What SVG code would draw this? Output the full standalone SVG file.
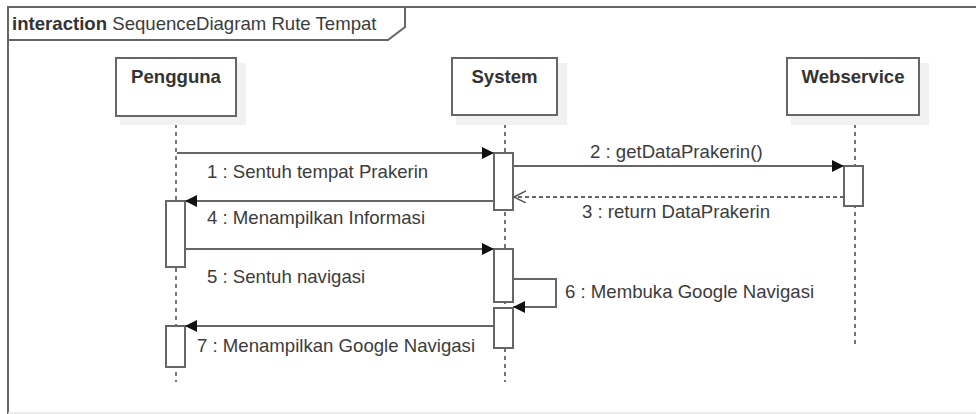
<svg xmlns="http://www.w3.org/2000/svg" width="976" height="414" viewBox="0 0 976 414">
<style>
text{font-family:"Liberation Sans",Arial,sans-serif;fill:#3c3c3c;font-size:18.6px}
.b{font-weight:bold;fill:#333}
.ln{stroke:#666;stroke-width:2;fill:none}
.ll{stroke:#444;stroke-width:1.5;stroke-dasharray:4,4;fill:none}
.box{fill:#fff;stroke:#666;stroke-width:2}
.sh{fill:#f1f1f1}
.act{fill:#fff;stroke:#666;stroke-width:2}
.dash{stroke:#666;stroke-width:2;stroke-dasharray:4,3;fill:none}
</style>
<defs>
<marker id="fill" markerWidth="14" markerHeight="14" refX="12" refY="6" orient="auto" markerUnits="userSpaceOnUse">
<path d="M0,0 L12,6 L0,12 Z" fill="#111"/>
</marker>
<marker id="open" markerWidth="14" markerHeight="14" refX="12" refY="6" orient="auto" markerUnits="userSpaceOnUse">
<path d="M0,0 L12,6 L0,12" fill="none" stroke="#555" stroke-width="1.5"/>
</marker>
</defs>
<rect x="0" y="0" width="976" height="414" fill="#fff"/>
<g id="frame">
<path d="M8,414 L8,7 L976,7" fill="none" stroke="#666" stroke-width="2"/>
<line x1="8" y1="413" x2="976" y2="413" stroke="#e6e6e6" stroke-width="1.5"/>
<path d="M8,7 L405,7 L405,27 L388,40 L8,40 Z" fill="#fff" stroke="#666" stroke-width="2"/>
<text x="12" y="30"><tspan class="b">interaction</tspan> SequenceDiagram Rute Tempat</text>
</g>
<g id="lifelines">
<line class="ll" x1="176" y1="116" x2="176" y2="382"/>
<line class="ll" x1="505" y1="116" x2="505" y2="382"/>
<line class="ll" x1="855" y1="116" x2="855" y2="347"/>
</g>
<g id="Pengguna">
<rect class="sh" x="120" y="63" width="126" height="62"/>
<rect class="box" x="116" y="58" width="120" height="58"/>
<text class="b" x="176" y="83" text-anchor="middle">Pengguna</text>
</g>
<g id="System">
<rect class="sh" x="456" y="63" width="111" height="62"/>
<rect class="box" x="452" y="58" width="105" height="57"/>
<text class="b" x="504.5" y="83" text-anchor="middle">System</text>
</g>
<g id="Webservice">
<rect class="sh" x="791" y="63" width="138" height="62"/>
<rect class="box" x="787" y="58" width="132" height="57"/>
<text class="b" x="853" y="83" text-anchor="middle">Webservice</text>
</g>
<g id="activations">
<rect class="act" x="494" y="153" width="19" height="57"/>
<rect class="act" x="844" y="166" width="19" height="40"/>
<rect class="act" x="166" y="201" width="19" height="66"/>
<rect class="act" x="494" y="249" width="19" height="53"/>
<rect class="act" x="494" y="308" width="19" height="40"/>
<rect class="act" x="166" y="326" width="19" height="41"/>
</g>
<g id="connectors">
<line class="ln" x1="177" y1="153" x2="494" y2="153" marker-end="url(#fill)"/>
<line class="ln" x1="513" y1="166" x2="844" y2="166" marker-end="url(#fill)"/>
<line class="dash" x1="844" y1="197" x2="514" y2="197" marker-end="url(#open)"/>
<line class="ln" x1="494" y1="201" x2="185" y2="201" marker-end="url(#fill)"/>
<line class="ln" x1="185" y1="249" x2="494" y2="249" marker-end="url(#fill)"/>
<path class="ln" d="M513,279 L556,279 L556,307 L513,307" marker-end="url(#fill)"/>
<line class="ln" x1="494" y1="326" x2="185" y2="326" marker-end="url(#fill)"/>
</g>
<g id="labels">
<text x="207" y="178">1 : Sentuh tempat Prakerin</text>
<text x="590" y="158">2 : getDataPrakerin()</text>
<text x="582" y="218">3 : return DataPrakerin</text>
<text x="207" y="224">4 : Menampilkan Informasi</text>
<text x="207" y="283">5 : Sentuh navigasi</text>
<text x="565" y="298">6 : Membuka Google Navigasi</text>
<text x="197" y="352">7 : Menampilkan Google Navigasi</text>
</g>
</svg>
